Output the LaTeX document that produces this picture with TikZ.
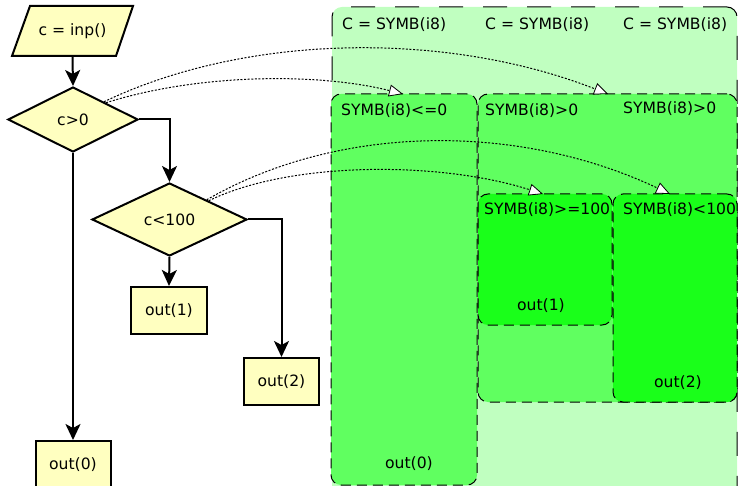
\documentclass[tikz,border=0pt]{standalone}
\usepackage{fontspec}
\setmainfont{DejaVu Sans}
\usetikzlibrary{shapes.geometric,arrows.meta}
\definecolor{flowy}{RGB}{255,255,192}
\definecolor{gout}{RGB}{192,255,192}
\definecolor{gmid}{RGB}{96,255,96}
\definecolor{ginn}{RGB}{26,255,26}
\begin{document}
\begin{tikzpicture}[x=1pt,y=-1pt,
  font=\fontsize{15.6}{18}\selectfont,
  flowbox/.style={draw, line width=2pt, fill=flowy, inner sep=0, minimum width=75pt, minimum height=47pt},
  dec/.style={diamond, draw, line width=2pt, fill=flowy, inner sep=0},
  flow/.style={line width=2pt, -{Stealth[length=16pt,width=15pt,inset=4pt]}},
  region/.style={draw, rounded corners=10pt, line width=1pt, dash pattern=on 10pt off 6pt, inner sep=0},
  link/.style={line width=1pt, dash pattern=on 2pt off 1.6pt, -{Triangle[length=14pt,width=12pt,fill=white,line width=0.8pt]}},
  lbl/.style={anchor=west, inner sep=0}]
\useasboundingbox (0,0) rectangle (738,486);
\clip (0,0) rectangle (738,486);
\fill[white] (0,0) rectangle (738,486);

% regions
\node[region, fill=gout, dash pattern=on 24pt off 20pt, minimum width=405pt, minimum height=513pt] (outer) at (534.5,263.5) {};
\node[region, fill=gmid, minimum width=146pt, minimum height=391pt] (r0) at (404,289.5) {};
\node[region, fill=gmid, minimum width=259pt, minimum height=308pt] (rp) at (607.5,248) {};
\node[region, fill=ginn, minimum width=134pt, minimum height=131pt] (r1) at (545,259.5) {};
\node[region, fill=ginn, minimum width=124pt, minimum height=208pt] (r2) at (675,298) {};

\node[lbl] (l1) at (342,25) {C = SYMB(i8)};
\node[lbl] (l2) at (485,25) {C = SYMB(i8)};
\node[lbl] (l3) at (623,25) {C = SYMB(i8)};
\node[lbl] (l4) at (341,111) {SYMB(i8)<=0};
\node[lbl] (l5) at (485,111) {SYMB(i8)>0};
\node[lbl] (l6) at (623,109) {SYMB(i8)>0};
\node[lbl] (l7) at (484,210) {SYMB(i8)>=100};
\node[lbl] (l8) at (623,210) {SYMB(i8)<100};
\node[inner sep=0] (p1) at (541,306) {out(1)};
\node[inner sep=0] (p2) at (678,383) {out(2)};
\node[inner sep=0] (p0) at (409,464) {out(0)};

% flowchart
\draw[line width=2pt, fill=flowy] (30,6) -- (133,6) -- (116,56) -- (12,56) -- cycle;
\node[inner sep=0, minimum height=50pt] (inp) at (72.5,31) {c = inp()};
\node[dec, minimum width=130pt, minimum height=65pt] (c0) at (73,119.5) {c>0};
\node[dec, minimum width=155pt, minimum height=73pt] (c1) at (169.5,219.5) {c<100};
\node[flowbox, minimum width=76pt] (o1) at (169,310.5) {out(1)};
\node[flowbox] (o2) at (281.5,381.5) {out(2)};
\node[flowbox] (o0) at (73,464.5) {out(0)};

\draw[flow] (inp.south) -- (c0.north);
\draw[flow] (c0.east) -| (c1.north);
\draw[flow] (c0.south) -- (o0.north);
\draw[flow] (c1.south) -- (o1.north);
\draw[flow] (c1.east) -| (o2.north);

% links
\coordinate (t0) at (403,94);
\coordinate (tp) at (608,94);
\coordinate (t1) at (543,194);
\coordinate (t2) at (670,194);
\draw[link] (c0.north east) .. controls (200,73) and (320,73) .. (t0);
\draw[link] ([xshift=-2pt,yshift=1pt]c0.north east) .. controls (250,32) and (450,32) .. (tp);
\draw[link] (c1.north east) .. controls (290,161) and (440,161) .. (t1);
\draw[link] ([xshift=-2pt,yshift=1pt]c1.north east) .. controls (340,123) and (520,123) .. (t2);
\end{tikzpicture}
\end{document}
